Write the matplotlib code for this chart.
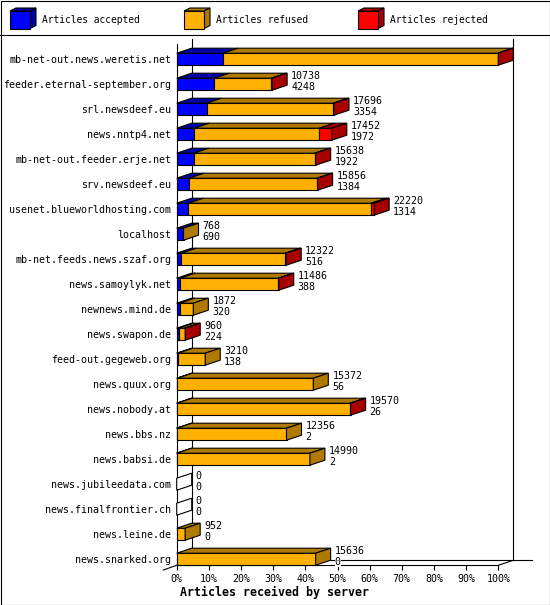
import matplotlib
matplotlib.use('Agg')
import matplotlib.pyplot as plt
from matplotlib.patches import Rectangle, Polygon
import numpy as np

plt.rcParams['font.family'] = ['DejaVu Sans Mono']

# --- data ---
servers = ['mb-net-out.news.weretis.net', 'feeder.eternal-september.org', 'srl.newsdeef.eu',
           'news.nntp4.net', 'mb-net-out.feeder.erje.net', 'srv.newsdeef.eu',
           'usenet.blueworldhosting.com', 'localhost', 'mb-net.feeds.news.szaf.org',
           'news.samoylyk.net', 'newnews.mind.de', 'news.swapon.de', 'feed-out.gegeweb.org',
           'news.quux.org', 'news.nobody.at', 'news.bbs.nz', 'news.babsi.de',
           'news.jubileedata.com', 'news.finalfrontier.ch', 'news.leine.de', 'news.snarked.org']
offered = [36190, 10738, 17696, 17452, 15638, 15856, 22220, 768, 12322, 11486, 1872, 960,
           3210, 15372, 19570, 12356, 14990, 0, 0, 952, 15636]
accepted = [5214, 4248, 3354, 1972, 1922, 1384, 1314, 690, 516, 388, 320, 224,
            138, 56, 26, 2, 2, 0, 0, 0, 0]
refused = [30916, 6410, 14272, 14090, 13626, 14422, 20596, 78, 11696, 11058, 1552, 696,
           3072, 15316, 19494, 12354, 14988, 0, 0, 952, 15636]
rejected = [60, 80, 70, 1390, 90, 50, 310, 0, 110, 40, 0, 40,
            0, 0, 50, 0, 0, 0, 0, 0, 0]

legend_labels = ['Articles accepted', 'Articles refused', 'Articles rejected']
front_cols = ['#0000ff', '#ffb000', '#ff0000']
dark_cols = ['#0000a8', '#b07a00', '#a80000']

W, H = 550, 605
fig = plt.figure(figsize=(W / 100, H / 100), dpi=100)
lw = 0.8
fs = 7.2

# background: border, legend strip
frame = fig.add_axes([0, 0, 1, 1])
frame.set_xlim(0, W)
frame.set_ylim(H, 0)
frame.axis('off')
frame.add_patch(Rectangle((0.5, 0.5), W - 1, H - 1, fill=False, ec='black', lw=lw))
frame.plot([0, W], [35, 35], color='black', lw=lw)
for k, lab in enumerate(legend_labels):
    x = 10 + 174 * k
    frame.add_patch(Polygon([(x, 11), (x + 20, 11), (x + 26, 8), (x + 6, 8)],
                            fc=dark_cols[k], ec='black', lw=lw))
    frame.add_patch(Polygon([(x + 20, 11), (x + 26, 8), (x + 26, 25.5), (x + 20, 28.5)],
                            fc=dark_cols[k], ec='black', lw=lw))
    frame.add_patch(Rectangle((x, 11), 20, 17.5, fc=front_cols[k], ec='black', lw=lw))
    frame.text(x + 32, 20, lab, va='center', ha='left', fontsize=6.9)

# main plot
px0, px1 = 176.7, 498.3
top_px, bot_px = 44, 565.3
row0, pitch = 59.2, 25.0
ax = fig.add_axes([px0 / W, 1 - bot_px / H, (px1 - px0) / W, (bot_px - top_px) / H])
ax.set_facecolor('none')
ytop = (top_px - row0) / pitch
ybot = (bot_px - row0) / pitch
ax.set_xlim(0, 100)
ax.set_ylim(ybot, ytop)
for s in ax.spines.values():
    s.set_visible(False)

dx = 15 / (px1 - px0) * 100
dy = 5 / pitch
hh = 6 / pitch
ext = 18.4 / (px1 - px0) * 100

kw = dict(color='black', lw=lw, clip_on=False, zorder=1)
ax.plot([dx, dx], [ytop - dy, ybot - dy], **kw)
ax.plot([100 + dx, 100 + dx], [ytop - dy, ybot - dy], **kw)
ax.plot([dx, 100 + dx + ext], [ybot - dy, ybot - dy], **kw)
ax.plot([0, 0], [ytop, ybot], **kw)
ax.plot([0, 100], [ybot, ybot], **kw)
ax.plot([100, 100 + dx], [ybot, ybot - dy], **kw)
ax.plot([0, -dx * 0.9], [ybot, ybot + dy * 0.95], **kw)

maxv = max(offered)
for i in range(len(servers)):
    top, bot = i - hh, i + hh
    left = 0
    last = 'white'
    for k, val in enumerate([accepted[i], refused[i], rejected[i]]):
        if val <= 0:
            continue
        w = val / maxv * 100
        ax.add_patch(Rectangle((left, top), w, 2 * hh, fc=front_cols[k], ec='black',
                               lw=lw, clip_on=False, zorder=3))
        ax.add_patch(Polygon([(left, top), (left + w, top), (left + w + dx, top - dy),
                              (left + dx, top - dy)], fc=dark_cols[k], ec='black',
                             lw=lw, clip_on=False, zorder=3))
        left += w
        last = dark_cols[k]
    ax.add_patch(Polygon([(left, top), (left + dx, top - dy), (left + dx, bot - dy),
                          (left, bot)], fc=last, ec='black', lw=lw, clip_on=False, zorder=3))
    for val, off in [(offered[i], 6.1), (accepted[i], -1.8)]:
        ax.annotate(str(val), xy=(left + dx, i), xytext=(2.9, off), textcoords='offset points',
                    va='center', ha='left', fontsize=fs, zorder=4,
                    bbox=dict(fc='white', ec='none', pad=0))

ax.set_xticks(np.arange(0, 101, 10))
ax.set_xticklabels([f'{t}%' for t in range(0, 101, 10)], fontsize=fs)
ax.tick_params(axis='x', length=3.6, width=lw, pad=2.5, direction='out')
ax.set_yticks(range(len(servers)))
ax.set_yticklabels(servers, fontsize=fs)
ax.tick_params(axis='y', length=0, pad=3.8)

fig.text(180 / W, 1 - 592 / H, 'Articles received by server', fontweight='bold',
         fontsize=8.4, va='center', ha='left')

fig.savefig('out.png', dpi=100)
